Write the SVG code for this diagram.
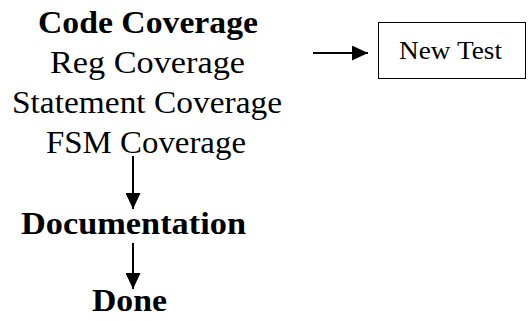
<svg xmlns="http://www.w3.org/2000/svg" width="529" height="321" viewBox="0 0 529 321">
<style>
text{font-family:'Liberation Serif','Times New Roman',serif;fill:#000}
.b{font-weight:bold}
.c{stroke:#000;stroke-width:2;fill:none}
</style>
<defs>
<marker id="ah" viewBox="0 0 16 15" refX="16" refY="7.5" markerWidth="16" markerHeight="15" markerUnits="userSpaceOnUse" orient="auto">
<path d="M0,0L16,7.5L0,15z" fill="#000"/>
</marker>
</defs>
<rect width="529" height="321" fill="#fff"/>
<g id="coverage">
<text class="b" x="38" y="33" font-size="32" textLength="220" lengthAdjust="spacingAndGlyphs">Code Coverage</text>
<text x="50" y="73" font-size="32" textLength="195" lengthAdjust="spacingAndGlyphs">Reg Coverage</text>
<text x="12" y="113" font-size="32" textLength="270" lengthAdjust="spacingAndGlyphs">Statement Coverage</text>
<text x="46" y="153" font-size="32" textLength="200" lengthAdjust="spacingAndGlyphs">FSM Coverage</text>
</g>
<g id="newtest">
<rect x="378.5" y="22.5" width="147" height="56" fill="#fff" stroke="#000" stroke-width="1"/>
<text x="399" y="59" font-size="26" textLength="103" lengthAdjust="spacingAndGlyphs">New Test</text>
</g>
<g id="documentation">
<text class="b" x="21" y="234" font-size="31" textLength="225" lengthAdjust="spacingAndGlyphs">Documentation</text>
</g>
<g id="done">
<text class="b" x="92" y="311" font-size="31" textLength="75" lengthAdjust="spacingAndGlyphs">Done</text>
</g>
<g id="connectors">
<line class="c" x1="133" y1="156" x2="133" y2="209" marker-end="url(#ah)"/>
<line class="c" x1="133" y1="243" x2="133" y2="289" marker-end="url(#ah)"/>
<line class="c" x1="313" y1="53" x2="368" y2="53" marker-end="url(#ah)"/>
</g>
</svg>
